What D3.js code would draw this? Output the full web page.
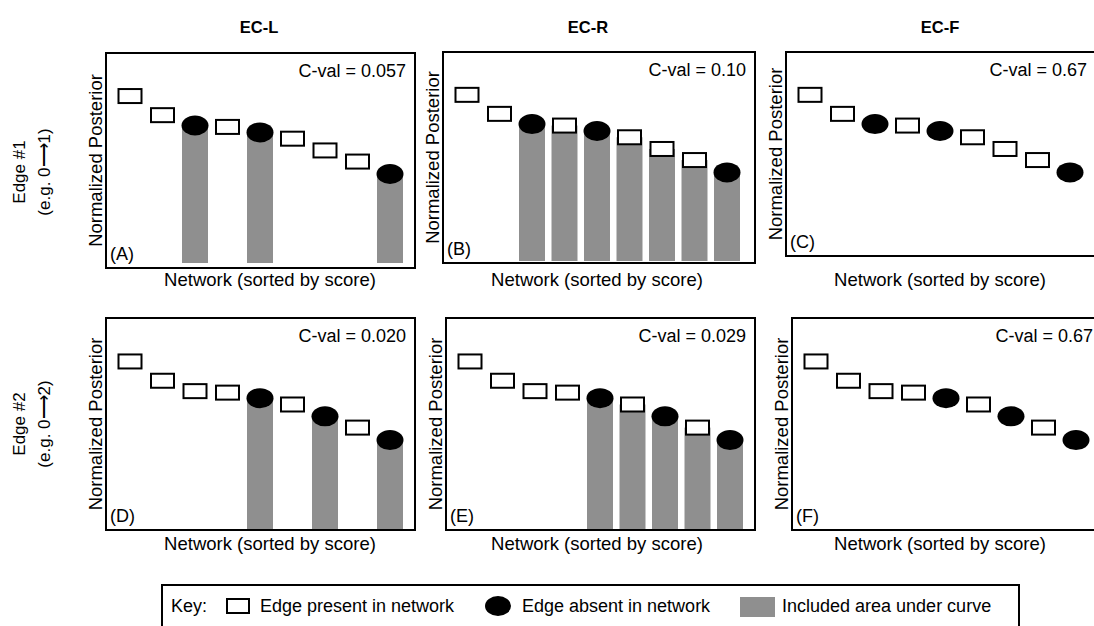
<!DOCTYPE html>
<html>
<head>
<meta charset="utf-8">
<script src="https://cdn.jsdelivr.net/npm/d3@7"></script>
<style>
  body { margin: 0; background: #fff; }
  text { font-family: "Liberation Sans", Arial, sans-serif; fill: #000; }
</style>
</head>
<body>
<svg width="1094" height="626"></svg>
<script>
// data
const methods = ["EC-L", "EC-R", "EC-F"];
const edgeLabels = ["Edge #1", "Edge #2"];
const edgeExamples = ["(e.g. 0\u27F61)", "(e.g. 0\u27F62)"];
const networks = [1, 2, 3, 4, 5, 6, 7, 8, 9];
const posterior = [0.795, 0.704, 0.655, 0.648, 0.622, 0.592, 0.536, 0.483, 0.424];
const edge1Present = [true, true, false, true, false, true, true, true, false];
const edge2Present = [true, true, true, true, false, true, false, true, false];
const cvalEdge1 = ["0.057", "0.10", "0.67"];
const cvalEdge2 = ["0.020", "0.029", "0.67"];
const panelLetters = ["A", "B", "C", "D", "E", "F"];
const keyLabels = ["Edge present in network", "Edge absent in network", "Included area under curve"];

const svg = d3.select("svg");
const grey = "#8f8f8f";

// panel frames (layout)
const boxes = [
  { x0: 106, y0: 53, x1: 415, y1: 268, base: 263 },
  { x0: 443, y0: 52, x1: 755, y1: 263, base: 261 },
  { x0: 786, y0: 52, x1: 1096, y1: 256, base: 261 },
  { x0: 106, y0: 318, x1: 415, y1: 530, base: 530 },
  { x0: 446, y0: 318, x1: 755, y1: 530, base: 530 },
  { x0: 792, y0: 318, x1: 1102, y1: 530, base: 530 }
];
const netLabelX = [270, 597, 940];
const netLabelY = [286, 550];
const rowLabelY = [172, 424];

// which networks count towards the area for each method
const included = (method, present) => {
  if (method === "EC-L") return present.map((p) => !p);
  if (method === "EC-R") {
    const k = present.indexOf(false);
    return present.map((p, i) => i >= k);
  }
  return present.map(() => false);
};

const rows = [
  { present: edge1Present, cval: cvalEdge1 },
  { present: edge2Present, cval: cvalEdge2 }
];

rows.forEach((row, r) => {
  methods.forEach((method, c) => {
    const idx = r * 3 + c;
    const b = boxes[idx];
    const xScale = d3.scalePoint().domain(networks).range([b.x0 + 24, b.x0 + 284]);
    const yScale = d3.scaleLinear().domain([0, 1]).range([b.base, b.y0]);
    const inc = included(method, row.present);
    const data = networks.map((n, i) => ({
      n,
      v: posterior[i],
      present: row.present[i],
      inc: inc[i]
    }));
    const g = svg.append("g");

    g.selectAll("rect.bar")
      .data(data.filter((d) => d.inc))
      .join("rect")
      .attr("class", "bar")
      .attr("x", (d) => xScale(d.n) - 13)
      .attr("y", (d) => yScale(d.v))
      .attr("width", 26)
      .attr("height", (d) => yScale(0) - yScale(d.v))
      .attr("fill", grey);

    g.selectAll("rect.pres")
      .data(data.filter((d) => d.present))
      .join("rect")
      .attr("class", "pres")
      .attr("x", (d) => xScale(d.n) - 11.5)
      .attr("y", (d) => yScale(d.v) - 7)
      .attr("width", 23)
      .attr("height", 14)
      .attr("fill", "#fff")
      .attr("stroke", "#000")
      .attr("stroke-width", 2);

    g.selectAll("ellipse")
      .data(data.filter((d) => !d.present))
      .join("ellipse")
      .attr("cx", (d) => xScale(d.n))
      .attr("cy", (d) => yScale(d.v))
      .attr("rx", 13.5)
      .attr("ry", 10)
      .attr("fill", "#000");

    g.append("rect")
      .attr("x", b.x0).attr("y", b.y0)
      .attr("width", b.x1 - b.x0).attr("height", b.y1 - b.y0)
      .attr("fill", "none").attr("stroke", "#000").attr("stroke-width", 2);

    g.append("text")
      .attr("x", b.x1 - 9).attr("y", b.y0 + 24)
      .attr("text-anchor", "end").style("font-size", "18px")
      .text(`C-val = ${row.cval[c]}`);

    g.append("text")
      .attr("x", b.x0 + 4).attr("y", b.y1 - 8)
      .style("font-size", "18px")
      .text(`(${panelLetters[idx]})`);

    g.append("text")
      .attr("transform", `translate(${b.x0 - 4},${(b.y0 + b.y1) / 2}) rotate(-90)`)
      .attr("text-anchor", "middle").style("font-size", "18.5px")
      .text("Normalized Posterior");

    g.append("text")
      .attr("x", netLabelX[c]).attr("y", netLabelY[r])
      .attr("text-anchor", "middle").style("font-size", "18.5px")
      .text("Network (sorted by score)");
  });

  svg.append("text")
    .attr("transform", `translate(25,${rowLabelY[r]}) rotate(-90)`)
    .attr("text-anchor", "middle").style("font-size", "17px")
    .text(edgeLabels[r]);
  svg.append("text")
    .attr("transform", `translate(50,${rowLabelY[r]}) rotate(-90)`)
    .attr("text-anchor", "middle").style("font-size", "17px")
    .text(edgeExamples[r]);
});

// column titles
const titleX = [259, 588, 940];
svg.selectAll("text.title")
  .data(methods)
  .join("text")
  .attr("class", "title")
  .attr("x", (d, i) => titleX[i])
  .attr("y", 33)
  .attr("text-anchor", "middle")
  .style("font-size", "16.5px")
  .style("font-weight", "bold")
  .text((d) => d);

// key
const key = svg.append("g");
key.append("rect")
  .attr("x", 162).attr("y", 585).attr("width", 857).attr("height", 60)
  .attr("fill", "none").attr("stroke", "#000").attr("stroke-width", 2);
key.append("text").attr("x", 171).attr("y", 612).style("font-size", "18px").text("Key:");
key.append("rect")
  .attr("x", 227).attr("y", 599).attr("width", 22).attr("height", 14)
  .attr("fill", "#fff").attr("stroke", "#000").attr("stroke-width", 2);
key.append("text").attr("x", 260).attr("y", 612).style("font-size", "18px").text(keyLabels[0]);
key.append("ellipse").attr("cx", 498).attr("cy", 606).attr("rx", 13).attr("ry", 10).attr("fill", "#000");
key.append("text").attr("x", 522).attr("y", 612).style("font-size", "18px").text(keyLabels[1]);
key.append("rect").attr("x", 740).attr("y", 597).attr("width", 35).attr("height", 20).attr("fill", grey);
key.append("text").attr("x", 782).attr("y", 612).style("font-size", "18px").text(keyLabels[2]);
</script>
</body>
</html>
